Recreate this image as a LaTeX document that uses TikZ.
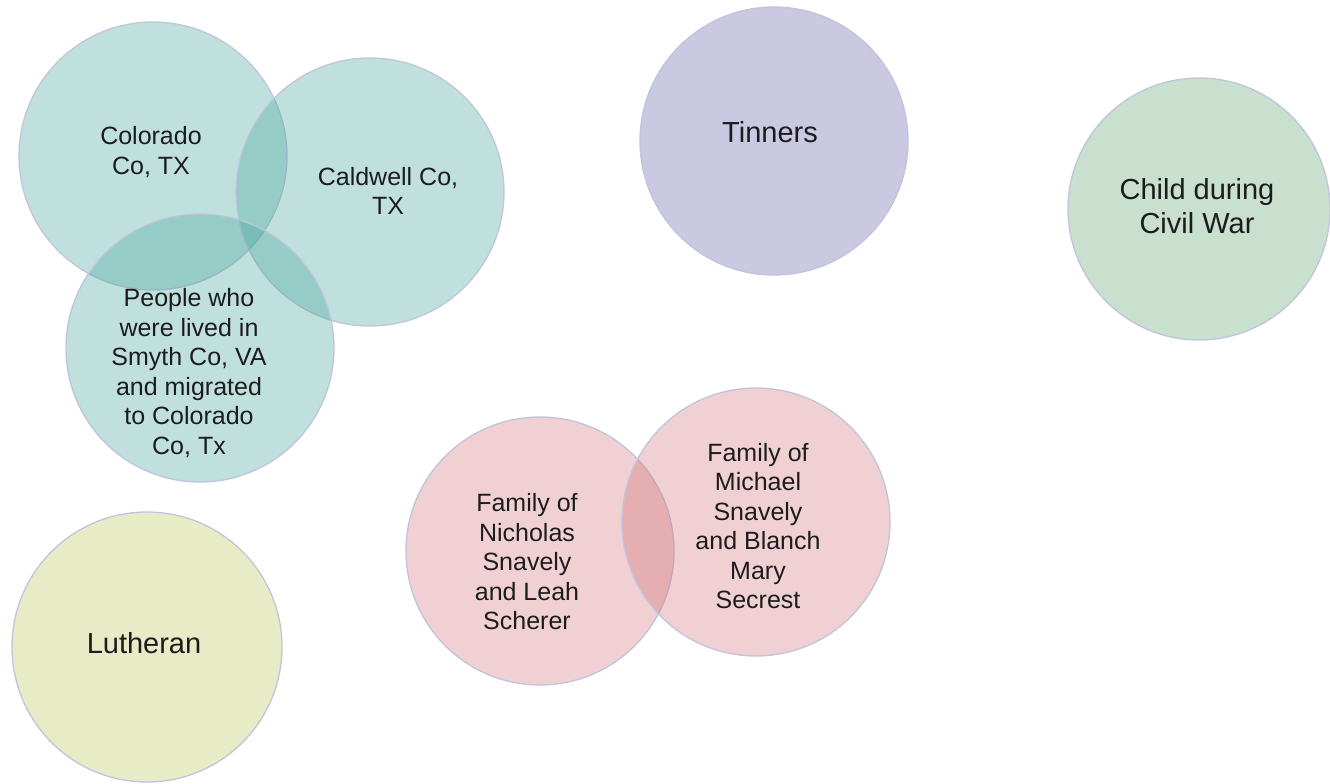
\documentclass[tikz,border=0pt]{standalone}
\usepackage{fontspec}
\setmainfont{Liberation Sans}
\usetikzlibrary{positioning}

\definecolor{setteal}{RGB}{60,160,150}
\definecolor{setrose}{RGB}{205,100,105}
\definecolor{tinlilac}{RGB}{203,200,225}
\definecolor{warmint}{RGB}{200,224,205}
\definecolor{lutherlime}{RGB}{231,236,198}
\definecolor{rimgray}{RGB}{192,196,222}
\definecolor{inkgray}{RGB}{28,28,30}

\begin{document}
\begin{tikzpicture}[x=1pt, y=-1pt,
  every node/.style={font=\fontsize{25}{29.5}\selectfont, text=inkgray, align=center},
  bubble/.style={circle, draw=rimgray, line width=1.3pt, minimum size=268pt, inner sep=0pt},
  tealset/.style={bubble, fill=setteal, fill opacity=0.32},
  roseset/.style={bubble, fill=setrose, fill opacity=0.30},
  big/.style={font=\fontsize{29}{34}\selectfont},
]
\useasboundingbox (0,0) rectangle (1330,784);

%% -- Texas group (three overlapping sets) --------------------------------
\node[tealset] (colorado) at (153,156) {};
\node[tealset] (caldwell) at (370,192) {};
\node[tealset] (smyth)    at (200,348) {};

\node (coloradotxt) at (151,152) {Colorado\\Co, TX};
\node (caldwelltxt) at (388,191) {Caldwell Co,\\TX};
\node (smythtxt)    at (189,373) {People who\\were lived in\\Smyth Co, VA\\and migrated\\to Colorado\\Co, Tx};

%% -- Single sets ----------------------------------------------------------
\node[bubble, fill=tinlilac] (tinners) at (774,141) {};
\node[big] (tinnerstxt) at (770,132) {Tinners};

\node[bubble, fill=warmint, minimum size=262pt] (civilwar) at (1199,209) {};
\node[big] (civilwartxt) at (1197,206) {Child during\\Civil War};

\node[bubble, fill=lutherlime, minimum size=270pt] (lutheran) at (147,647) {};
\node[big] (luthertxt) at (144,643) {Lutheran};

%% -- Snavely families -----------------------------------------------------
\node[roseset] (nicholas) at (540,551) {};
\node[roseset] (michael)  at (756,522) {};

\node (nicholastxt) at (527,562) {Family of\\Nicholas\\Snavely\\and Leah\\Scherer};
\node (michaeltxt)  at (758,526) {Family of\\Michael\\Snavely\\and Blanch\\Mary\\Secrest};

\end{tikzpicture}
\end{document}
